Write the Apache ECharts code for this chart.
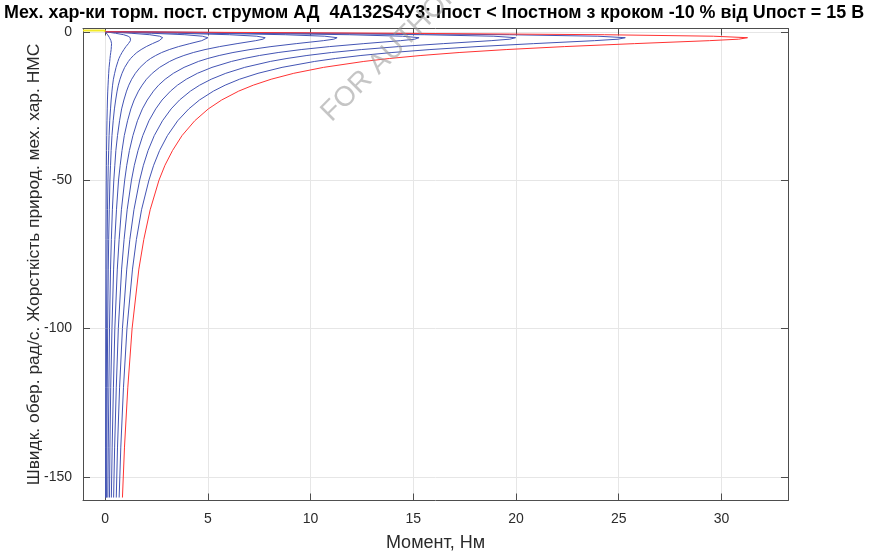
<!DOCTYPE html>
<html>
<head>
<meta charset="utf-8">
<script src="https://cdn.jsdelivr.net/npm/echarts@6/dist/echarts.min.js"></script>
<style>
  html, body { margin: 0; padding: 0; background: #ffffff; }
  #chart { width: 869px; height: 554px; }
</style>
</head>
<body>
<div id="chart"></div>
<script>
// Speed of rotation, rad/s (shared by every braking characteristic)
const omega = [0, -0.5, -1, -1.5, -2, -2.5, -3, -4, -5, -6, -7, -8, -9, -10, -12, -14, -16, -18, -20,
  -23, -26, -30, -35, -40, -45, -50, -60, -70, -80, -100, -120, -140, -157];

// Braking torque, N·m, at the nominal DC current (red curve)
const torqueNom = [0, 14.11, 24.30, 29.61, 31.27, 30.84, 29.41, 25.76, 22.35, 19.52, 17.23, 15.37, 13.85, 12.59,
  10.63, 9.18, 8.08, 7.21, 6.50, 5.67, 5.02, 4.36, 3.74, 3.28, 2.91, 2.62, 2.19, 1.88, 1.64, 1.31, 1.10, 0.94, 0.84];

// Braking torque, N·m, with DC current lowered in -10 % steps (blue curves)
const torque90 = [0, 11.43, 19.68, 23.98, 25.32, 24.97, 23.82, 20.86, 18.10, 15.81, 13.96, 12.45, 11.22, 10.20,
  8.61, 7.44, 6.54, 5.84, 5.27, 4.59, 4.07, 3.53, 3.03, 2.65, 2.36, 2.13, 1.77, 1.52, 1.33, 1.06, 0.89, 0.76, 0.68];
const torque80 = [0, 9.01, 15.53, 18.92, 19.98, 19.70, 18.79, 16.46, 14.28, 12.47, 11.01, 9.82, 8.85, 8.04,
  6.79, 5.87, 5.16, 4.60, 4.15, 3.62, 3.21, 2.79, 2.39, 2.09, 1.86, 1.68, 1.40, 1.20, 1.05, 0.84, 0.70, 0.60, 0.54];
const torque70 = [0, 6.90, 11.88, 14.47, 15.28, 15.07, 14.38, 12.59, 10.92, 9.54, 8.42, 7.51, 6.77, 6.15,
  5.20, 4.49, 3.95, 3.52, 3.18, 2.77, 2.46, 2.13, 1.83, 1.60, 1.42, 1.28, 1.07, 0.92, 0.80, 0.64, 0.54, 0.46, 0.41];
const torque60 = [0, 5.09, 8.77, 10.69, 11.29, 11.13, 10.62, 9.30, 8.07, 7.05, 6.22, 5.55, 5.00, 4.54,
  3.84, 3.32, 2.92, 2.60, 2.35, 2.05, 1.81, 1.57, 1.35, 1.18, 1.05, 0.95, 0.79, 0.68, 0.59, 0.47, 0.40, 0.34, 0.30];
const torque50 = [0, 3.52, 6.06, 7.38, 7.79, 7.68, 7.33, 6.42, 5.57, 4.86, 4.29, 3.83, 3.45, 3.14,
  2.65, 2.29, 2.01, 1.80, 1.62, 1.41, 1.25, 1.09, 0.93, 0.82, 0.73, 0.65, 0.55, 0.47, 0.41, 0.33, 0.27, 0.23, 0.21];
const torque40 = [0, 2.25, 3.88, 4.73, 5.00, 4.93, 4.70, 4.12, 3.57, 3.12, 2.75, 2.46, 2.21, 2.01,
  1.70, 1.47, 1.29, 1.15, 1.04, 0.91, 0.80, 0.70, 0.60, 0.52, 0.47, 0.42, 0.35, 0.30, 0.26, 0.21, 0.18, 0.15, 0.13];
const torque30 = [0, 1.26, 2.17, 2.65, 2.80, 2.76, 2.63, 2.30, 2.00, 1.75, 1.54, 1.38, 1.24, 1.13,
  0.95, 0.82, 0.72, 0.64, 0.58, 0.51, 0.45, 0.39, 0.33, 0.29, 0.26, 0.23, 0.20, 0.17, 0.15, 0.12, 0.10, 0.08, 0.07];
const torque20 = [0, 0.50, 0.90, 1.12, 1.22, 1.25, 1.23, 1.13, 1.01, 0.91, 0.82, 0.74, 0.67, 0.62,
  0.53, 0.46, 0.40, 0.36, 0.33, 0.29, 0.26, 0.22, 0.19, 0.17, 0.15, 0.135, 0.113, 0.097, 0.085, 0.068, 0.057, 0.049, 0.043];
const torque10 = [0, 0.06, 0.12, 0.17, 0.21, 0.25, 0.28, 0.31, 0.30, 0.29, 0.27, 0.25, 0.235, 0.22,
  0.19, 0.17, 0.155, 0.14, 0.125, 0.11, 0.10, 0.087, 0.075, 0.066, 0.059, 0.053, 0.045, 0.038, 0.034, 0.027, 0.023, 0.019, 0.017];

// Natural characteristic stub (yellow), torque / speed
const naturalTorque = [-1.08, -0.05, 0];
const naturalSpeed = [0.45, 0.45, 0.1];

// Tick values
const xTicks = [0, 5, 10, 15, 20, 25, 30];
const yTicks = [-150, -100, -50, 0];

const titleText = 'Мех. хар-ки торм. пост. струмом АД  4А132S4У3: Іпост < Іпостном з кроком -10 % від Uпост = 15 В';
const xName = 'Момент, Нм';
const yName = 'Швидк. обер. рад/с. Жорсткість природ. мех. хар. НМС';
const stampText = 'FOR AUTHOR USE ONLY';

const FONT = '"Liberation Sans", Arial, Helvetica, sans-serif';
const AXIS_COLOR = '#4d4d4d';
const LABEL_COLOR = '#2b2b2b';
const GRID_COLOR = '#e6e6e6';
const X_MIN = -1.08, X_MAX = 33.24, Y_MIN = -158, Y_MAX = 1.1;

function pairs(torque) { return omega.map((w, i) => [torque[i], w]); }

const blueSets = [torque90, torque80, torque70, torque60, torque50, torque40, torque30, torque20, torque10];

const series = [];
series.push({
  type: 'line', data: pairs(torqueNom), xAxisIndex: 0, yAxisIndex: 0,
  symbol: 'none', lineStyle: { color: '#ff3333', width: 1 }, silent: true, z: 3
});
blueSets.forEach(t => series.push({
  type: 'line', data: pairs(t), xAxisIndex: 0, yAxisIndex: 0,
  symbol: 'none', lineStyle: { color: '#4354b4', width: 1 }, silent: true, z: 2
}));
series.push({
  type: 'line', data: naturalTorque.map((m, i) => [m, naturalSpeed[i]]), xAxisIndex: 0, yAxisIndex: 0,
  symbol: 'none', lineStyle: { color: '#f2ea2a', width: 2 }, silent: true, z: 4
});

function mainAxis(pos, min, max, ticks, showLabels, labelMargin, name, nameGap, nameSize, rotate) {
  return {
    type: 'value', position: pos, min: min, max: max,
    axisLine: { show: true, onZero: false, lineStyle: { color: AXIS_COLOR, width: 1 } },
    axisTick: { show: true, inside: true, length: 7, customValues: ticks, lineStyle: { color: AXIS_COLOR } },
    axisLabel: showLabels ? { show: true, customValues: ticks, color: LABEL_COLOR, fontFamily: FONT, fontSize: 14, margin: labelMargin } : { show: false },
    splitLine: { show: showLabels, lineStyle: { color: GRID_COLOR, width: 1 } },
    name: name || '', nameLocation: 'middle', nameGap: nameGap || 0,
    nameRotate: rotate,
    nameTextStyle: { color: LABEL_COLOR, fontFamily: FONT, fontSize: nameSize || 16 }
  };
}

const yMain = mainAxis('left', Y_MIN, Y_MAX, yTicks, true, 11, yName, 40, 17.4, 90);
yMain.nameMoveOverlap = false;

const option = {
  animation: false,
  backgroundColor: '#ffffff',
  title: {
    text: titleText, left: -1, top: -1,
    textStyle: { fontFamily: FONT, fontWeight: 'bold', fontSize: 17.9, color: '#000000' }
  },
  grid: { left: 83, right: 81, top: 28.5, bottom: 53.5, containLabel: false, outerBoundsMode: 'none' },
  xAxis: [
    mainAxis('bottom', X_MIN, X_MAX, xTicks, true, 12, xName, 34, 18),
    mainAxis('top', X_MIN, X_MAX, xTicks, false)
  ],
  yAxis: [
    yMain,
    mainAxis('right', Y_MIN, Y_MAX, yTicks, false)
  ],
  series: series,
  graphic: [{
    type: 'text', x: 336, y: 127, rotation: Math.PI / 4, silent: true, z: 100,
    style: {
      text: stampText, x: 0, y: 0, textAlign: 'left', textVerticalAlign: 'bottom',
      fontFamily: FONT, fontSize: 28, fill: 'rgba(150,150,150,0.55)'
    }
  }]
};

const chart = echarts.init(document.getElementById('chart'), null, { renderer: 'canvas' });
chart.setOption(option);
</script>
</body>
</html>
